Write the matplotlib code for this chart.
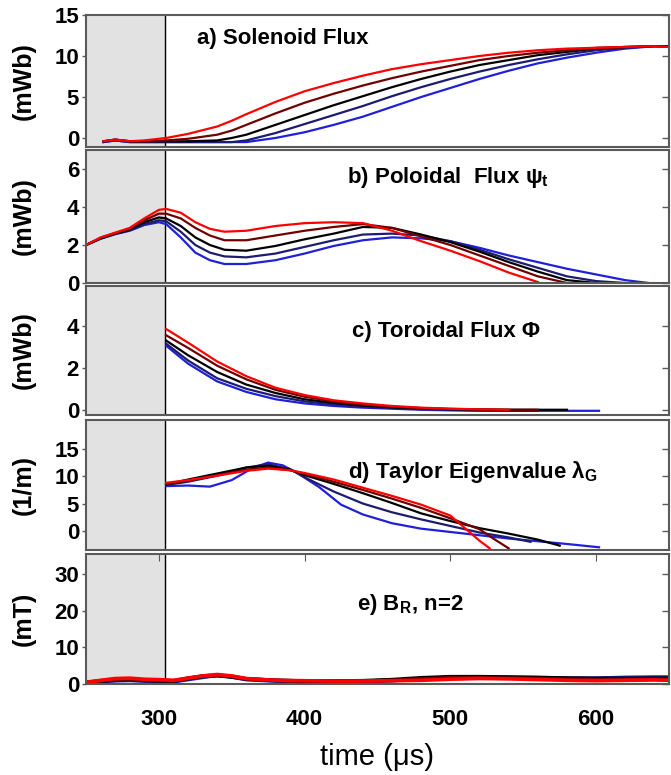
import numpy as np
import matplotlib.pyplot as plt

plt.rcParams['font.family'] = ['Liberation Sans', 'DejaVu Sans']
plt.rcParams['mathtext.fontset'] = 'custom'
plt.rcParams['mathtext.rm'] = 'Liberation Sans:bold'

# colours of the five shots, plotted blue first, red on top
colors = ['#2020d8', '#1c1c70', '#000000', '#700000', '#ff0000']

# a) solenoid flux (mWb)
t_a = [262, 270, 280, 290, 305, 320, 340, 350, 360, 380, 400, 420, 440, 460, 480,
       500, 520, 540, 560, 580, 600, 620, 640, 650]
sol_blue = [-0.5, -0.3, -0.5, -0.5, -0.5, -0.5, -0.5, -0.5, -0.5, 0.0, 0.7, 1.6, 2.6, 3.8, 5.0,
            6.1, 7.2, 8.2, 9.1, 9.8, 10.4, 10.9, 11.2, 11.2]
sol_navy = [-0.5, -0.3, -0.5, -0.5, -0.5, -0.5, -0.5, -0.5, -0.3, 0.6, 1.7, 2.8, 3.9, 5.1, 6.2,
            7.2, 8.1, 8.9, 9.6, 10.2, 10.7, 11.0, 11.2, 11.2]
sol_black = [-0.4, -0.2, -0.4, -0.4, -0.4, -0.4, -0.3, 0.0, 0.4, 1.6, 2.8, 4.0, 5.1, 6.2, 7.2,
             8.1, 8.9, 9.5, 10.1, 10.5, 10.9, 11.1, 11.2, 11.2]
sol_dred = [-0.4, -0.2, -0.4, -0.4, -0.3, -0.1, 0.4, 0.9, 1.6, 3.0, 4.3, 5.4, 6.4, 7.3, 8.1,
            8.8, 9.5, 10.0, 10.4, 10.7, 11.0, 11.1, 11.2, 11.1]
sol_red = [-0.4, -0.2, -0.4, -0.3, 0.0, 0.5, 1.4, 2.1, 2.9, 4.4, 5.7, 6.7, 7.6, 8.4, 9.0,
           9.5, 10.0, 10.4, 10.7, 10.9, 11.0, 11.1, 11.2, 11.1]

# b) poloidal flux (mWb)
t_b = [250, 260, 270, 280, 290, 300, 305, 315, 325, 335, 345, 360, 380, 400, 420,
       440, 460, 480, 500, 520, 540, 560, 580, 600, 620, 636]
pol_blue = [2.0, 2.33, 2.57, 2.75, 3.05, 3.2, 3.1, 2.4, 1.6, 1.2, 1.0, 1.0, 1.2, 1.55, 1.95,
            2.25, 2.4, 2.35, 2.2, 1.85, 1.45, 1.1, 0.75, 0.45, 0.15, 0.0]
pol_navy = [2.0, 2.33, 2.58, 2.78, 3.1, 3.3, 3.25, 2.7, 2.0, 1.6, 1.4, 1.35, 1.55, 1.9, 2.25,
            2.55, 2.6, 2.5, 2.2, 1.75, 1.25, 0.8, 0.35, 0.1, 0.0, np.nan]
pol_black = [2.0, 2.35, 2.6, 2.8, 3.2, 3.45, 3.4, 3.0, 2.4, 2.0, 1.75, 1.7, 1.95, 2.3, 2.6,
             2.95, 2.9, 2.55, 2.15, 1.65, 1.1, 0.6, 0.15, 0.0, np.nan, np.nan]
pol_dred = [2.0, 2.38, 2.62, 2.85, 3.3, 3.65, 3.65, 3.4, 2.9, 2.5, 2.25, 2.25, 2.5, 2.75, 2.95,
            3.1, 2.9, 2.45, 2.0, 1.45, 0.9, 0.35, 0.0, np.nan, np.nan, np.nan]
pol_red = [2.0, 2.4, 2.65, 2.9, 3.4, 3.85, 3.9, 3.7, 3.2, 2.85, 2.7, 2.75, 3.0, 3.15, 3.2,
           3.15, 2.75, 2.2, 1.7, 1.15, 0.55, 0.05, np.nan, np.nan, np.nan, np.nan]

# c) toroidal flux (mWb)
t_c = [305, 320, 340, 360, 380, 400, 420, 440, 460, 480, 500, 520, 540, 560, 580, 602]
tor_blue = [3.05, 2.2, 1.35, 0.85, 0.5, 0.3, 0.18, 0.1, 0.05, 0.0, -0.03, -0.05, -0.05,
            -0.05, -0.05, -0.05]
tor_navy = [3.15, 2.35, 1.5, 1.0, 0.65, 0.4, 0.25, 0.15, 0.08, 0.03, 0.0, -0.03, -0.05,
            -0.05, np.nan, np.nan]
tor_black = [3.3, 2.6, 1.8, 1.2, 0.8, 0.5, 0.33, 0.2, 0.12, 0.06, 0.03, 0.01, 0.0, 0.0,
             0.0, np.nan]
tor_dred = [3.55, 2.95, 2.1, 1.45, 0.95, 0.62, 0.4, 0.25, 0.15, 0.08, 0.04, 0.02, 0.0, 0.0,
            np.nan, np.nan]
tor_red = [3.85, 3.2, 2.3, 1.6, 1.05, 0.7, 0.45, 0.3, 0.18, 0.1, 0.05, 0.02, 0.0, np.nan,
           np.nan, np.nan]

# d) Taylor eigenvalue (1/m)
t_d_blue = [305, 320, 335, 350, 365, 375, 385, 395, 410, 425, 440, 460, 480, 500, 520,
            540, 560, 580, 602]
lam_blue = [8.2, 8.3, 8.1, 9.3, 11.6, 12.5, 12.0, 10.6, 8.0, 4.8, 3.0, 1.4, 0.4, -0.2, -0.8,
            -1.4, -1.9, -2.4, -3.0]
t_d_navy = [305, 320, 340, 360, 375, 390, 400, 420, 440, 460, 480, 500, 520, 540, 555]
lam_navy = [8.4, 9.0, 10.1, 11.6, 12.2, 11.3, 9.8, 7.2, 5.0, 3.4, 2.1, 0.9, -0.3, -1.2, -2.0]
t_d_black = [305, 320, 340, 360, 375, 390, 400, 420, 440, 460, 480, 500, 520, 540, 560, 575]
lam_black = [8.5, 9.4, 10.5, 11.6, 11.9, 11.2, 10.2, 8.6, 6.9, 5.1, 3.2, 1.8, 0.5, -0.5,
             -1.6, -2.7]
t_d_dred = [305, 320, 340, 360, 375, 390, 400, 420, 440, 460, 480, 500, 520, 530, 540]
lam_dred = [8.6, 9.2, 10.2, 11.2, 11.6, 11.1, 10.4, 9.0, 7.5, 5.9, 4.2, 2.3, 0.3, -1.5, -3.2]
t_d_red = [305, 320, 340, 360, 375, 390, 400, 420, 440, 460, 480, 500, 510, 520, 527]
lam_red = [8.8, 9.3, 10.1, 11.0, 11.4, 11.1, 10.6, 9.4, 7.9, 6.4, 4.8, 2.8, 0.5, -1.8, -3.2]

# e) B_R, n=2 (mT)
t_e = [250, 260, 270, 280, 290, 300, 310, 320, 330, 340, 350, 360, 380, 400, 420, 440,
       460, 480, 500, 520, 540, 560, 580, 600, 620, 640, 650]
br_blue = [0.3, 0.6, 0.9, 1.0, 0.8, 0.7, 0.6, 1.2, 1.8, 2.4, 1.9, 1.2, 0.8, 0.6, 0.6, 0.7,
           0.9, 1.3, 1.6, 1.7, 1.7, 1.6, 1.5, 1.6, 1.8, 1.9, 1.9]
br_navy = [0.3, 0.7, 1.0, 1.1, 0.9, 0.8, 0.7, 1.4, 2.0, 2.3, 1.9, 1.3, 0.9, 0.7, 0.7, 0.8,
           1.0, 1.5, 1.8, 1.9, 1.8, 1.7, 1.6, 1.5, 1.6, 1.7, 1.7]
br_black = [0.4, 0.8, 1.1, 1.3, 1.0, 0.9, 0.8, 1.5, 2.1, 2.3, 2.0, 1.4, 1.0, 0.8, 0.8, 0.9,
            1.2, 1.7, 2.0, 2.0, 1.9, 1.8, 1.6, 1.5, 1.5, 1.5, 1.5]
br_dred = [0.4, 0.9, 1.3, 1.4, 1.1, 1.0, 0.9, 1.6, 2.2, 2.4, 2.1, 1.4, 1.0, 0.8, 0.7, 0.8,
           1.0, 1.4, 1.7, 1.7, 1.6, 1.5, 1.3, 1.2, 1.2, 1.3, 1.3]
br_red = [0.5, 1.0, 1.5, 1.6, 1.3, 1.2, 1.0, 1.6, 2.2, 2.6, 2.2, 1.5, 1.0, 0.9, 0.8, 0.8,
          0.9, 1.0, 1.3, 1.5, 1.4, 1.2, 1.0, 0.9, 1.0, 1.1, 1.0]

panels = [
    ([t_a] * 5, [sol_blue, sol_navy, sol_black, sol_dred, sol_red], (-1.1, 15), [0, 5, 10, 15],
     '(mWb)', 'a) Solenoid Flux', (0.19, 0.82)),
    ([t_b] * 5, [pol_blue, pol_navy, pol_black, pol_dred, pol_red], (0, 7), [0, 2, 4, 6],
     '(mWb)', u'b) Poloidal  Flux \u03c8$_\\mathregular{t}$', (0.448, 0.79)),
    ([t_c] * 5, [tor_blue, tor_navy, tor_black, tor_dred, tor_red], (-0.25, 5.9), [0, 2, 4],
     '(mWb)', u'c) Toroidal Flux \u03a6', (0.456, 0.65)),
    ([t_d_blue, t_d_navy, t_d_black, t_d_dred, t_d_red],
     [lam_blue, lam_navy, lam_black, lam_dred, lam_red], (-3.5, 20.3), [0, 5, 10, 15],
     '(1/m)', u'd) Taylor Eigenvalue \u03bb$_\\mathregular{G}$', (0.45, 0.6)),
    ([t_e] * 5, [br_blue, br_navy, br_black, br_dred, br_red], (0, 35.5), [0, 10, 20, 30],
     '(mT)', r'e) B$_\mathregular{R}$, n=2', (0.465, 0.615)),
]

fig = plt.figure(figsize=(6.71, 7.75), dpi=100)
# axes boxes in pixels from the top: (top, bottom)
boxes = [(15, 147), (150, 283), (286, 415), (420, 550), (554, 684)]
left, right = 86 / 671, 669 / 671

for i, (ts, ys, ylim, yticks, ylab, title, tpos) in enumerate(panels):
    top, bot = boxes[i]
    ax = fig.add_axes([left, 1 - bot / 775, right - left, (bot - top) / 775])
    ax.axvspan(250, 304, color='#e2e2e2', zorder=0)
    ax.axvline(304, color='k', lw=1.0, zorder=1)
    lw = 2.6 if i == 4 else 1.6
    for t, y, c in zip(ts, ys, colors):
        ax.plot(t, y, color=c, lw=lw, zorder=2)
    ax.set_xlim(250, 650)
    ax.set_ylim(*ylim)
    ax.set_yticks(yticks)
    ax.set_xticks([300, 400, 500, 600])
    for sp in ax.spines.values():
        sp.set_color('#5a5a5a')
        sp.set_linewidth(1.5)
    ax.tick_params(axis='y', direction='out', length=3, width=1, color='#5a5a5a',
                   labelsize=16, pad=2)
    for lab in ax.get_yticklabels():
        lab.set_fontweight('bold')
    sec = ax.secondary_yaxis('right')
    sec.set_yticks(yticks)
    sec.tick_params(direction='in', length=5, width=1, color='#5a5a5a', labelright=False)
    sec.spines['right'].set_visible(False)
    if i == 4:
        ax.tick_params(axis='x', direction='in', top=True, bottom=False, length=5,
                       color='#5a5a5a', labelsize=16, pad=18)
        for lab in ax.get_xticklabels():
            lab.set_fontweight('bold')
    else:
        ax.tick_params(axis='x', length=0, labelbottom=False)
    ax.text(tpos[0], tpos[1], title, transform=ax.transAxes, fontsize=16,
            fontweight='bold', va='center', ha='left')
    fig.text(24 / 671, 1 - (top + bot) / 2 / 775, ylab, rotation=90, fontsize=18,
             fontweight='bold', va='center', ha='center')

fig.text((left + right) / 2, 1 - 757 / 775, u'time (\u03bcs)', fontsize=21,
         ha='center', va='center')

fig.savefig('out.png', dpi=100)
